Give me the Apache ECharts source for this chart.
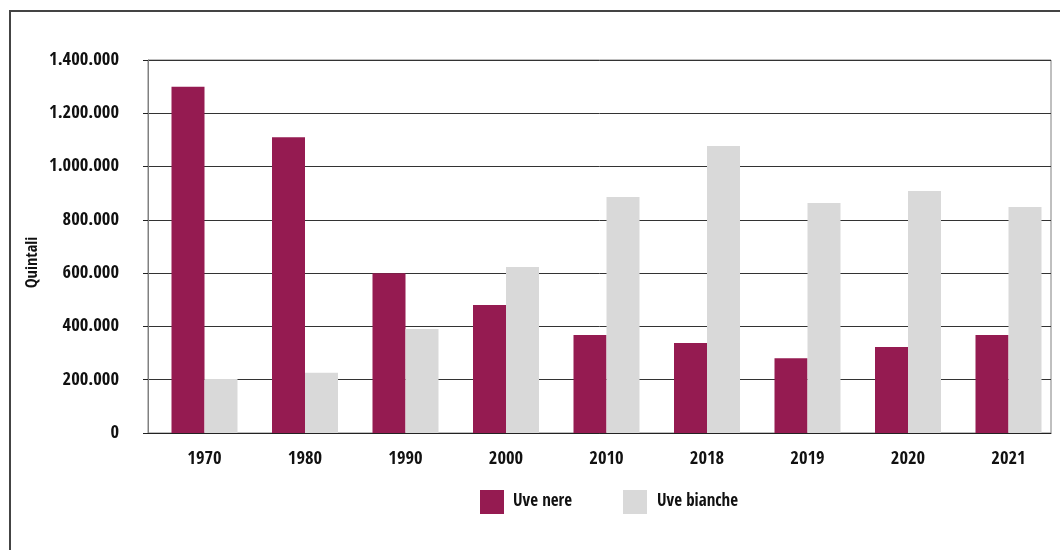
<!DOCTYPE html>
<html>
<head>
<meta charset="utf-8">
<script src="https://cdn.jsdelivr.net/npm/echarts@6/dist/echarts.min.js"></script>
<style>
html,body{margin:0;padding:0;background:#fff;}
#chart{width:1060px;height:550px;}
</style>
</head>
<body>
<div id="chart"></div>
<script>
var categories = ['1970', '1980', '1990', '2000', '2010', '2018', '2019', '2020', '2021'];
var uveNere = [1300000, 1110000, 600000, 480000, 368000, 338000, 281000, 323000, 368000];
var uveBianche = [203000, 226000, 390000, 623000, 886000, 1077000, 863000, 908000, 848000];
var seriesNames = ['Uve nere', 'Uve bianche'];
var yAxisName = 'Quintali';
var yMin = 0, yMax = 1400000, yStep = 200000;

var FONT = "'Open Sans Condensed', 'DejaVu Sans Condensed', sans-serif";
var WEIGHT = 'normal';
var NUM_SIZE = 18.5;
var TXT_SIZE = 17;
function fmt(v) {
  return String(v).replace(/\B(?=(\d{3})+(?!\d))/g, '.');
}

var chart = echarts.init(document.getElementById('chart'), null, {renderer: 'canvas'});
chart.setOption({
  animation: false,
  backgroundColor: '#ffffff',
  textStyle: {fontFamily: FONT, fontWeight: WEIGHT},
  graphic: [
    {
      type: 'rect', silent: true, z: 100,
      shape: {x: 10, y: 11, width: 2000, height: 2000},
      style: {fill: 'none', stroke: '#444', lineWidth: 2}
    },
    {
      type: 'text', silent: true,
      x: 33, y: 262.5, rotation: Math.PI / 2,
      style: {text: yAxisName, fontFamily: FONT, fontWeight: WEIGHT, fontSize: 16.5, fill: '#111',
        align: 'center', verticalAlign: 'middle'}
    }
  ],
  grid: [
    {left: 154.25, right: 1060 - 1058.75, top: 60, bottom: 117, show: false},
    {left: 148, right: 9, top: 60, bottom: 117, show: true, borderColor: '#808080', borderWidth: 1, backgroundColor: 'transparent'}
  ],
  legend: [
    {
      data: [seriesNames[0]], left: 480, top: 490, icon: 'rect', padding: 0,
      itemWidth: 24, itemHeight: 24, selectedMode: false,
      textStyle: {fontFamily: FONT, fontWeight: WEIGHT, fontSize: TXT_SIZE, color: '#111', padding: [7, 0, 0, 4]}
    },
    {
      data: [seriesNames[1]], left: 623, top: 490, icon: 'rect', padding: 0,
      itemWidth: 24, itemHeight: 24, selectedMode: false,
      textStyle: {fontFamily: FONT, fontWeight: WEIGHT, fontSize: TXT_SIZE, color: '#111', padding: [7, 0, 0, 5]}
    }
  ],
  xAxis: [
    {
      type: 'category', gridIndex: 0, data: categories,
      axisLine: {show: false}, axisTick: {show: false},
      axisLabel: {fontFamily: FONT, fontWeight: WEIGHT, fontSize: NUM_SIZE, color: '#111', margin: 17}
    },
    {
      type: 'category', gridIndex: 1, data: categories,
      axisLine: {show: true, lineStyle: {color: '#222', width: 1}},
      axisTick: {show: false}, axisLabel: {show: false}
    }
  ],
  yAxis: [
    {
      type: 'value', gridIndex: 0, min: yMin, max: yMax, interval: yStep,
      show: false, splitLine: {show: false}
    },
    {
      type: 'value', gridIndex: 1, min: yMin, max: yMax, interval: yStep,
      axisLine: {show: true, lineStyle: {color: '#808080', width: 1}},
      axisTick: {show: true, length: 5, lineStyle: {color: '#222'}},
      axisLabel: {fontFamily: FONT, fontWeight: WEIGHT, fontSize: NUM_SIZE, color: '#111', margin: 29, formatter: fmt},
      splitLine: {show: true, lineStyle: {color: '#333', width: 1}}
    }
  ],
  series: [
    {
      name: seriesNames[0], type: 'bar', xAxisIndex: 0, yAxisIndex: 0,
      data: uveNere, barWidth: 33, barGap: '0%',
      itemStyle: {color: '#951B51'}
    },
    {
      name: seriesNames[1], type: 'bar', xAxisIndex: 0, yAxisIndex: 0,
      data: uveBianche, barWidth: 33, barGap: '0%',
      itemStyle: {color: '#D9D9D9'}
    }
  ]
});
</script>
</body>
</html>
